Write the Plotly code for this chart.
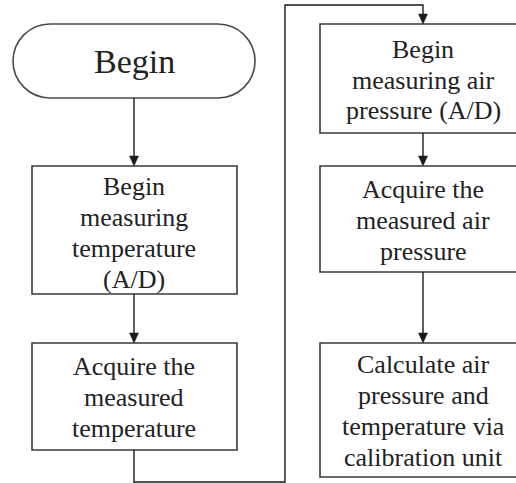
import plotly.graph_objects as go

# ---- content ----
start_label = ["Begin"]
left_box_labels = [
    ["Begin", "measuring", "temperature", "(A/D)"],
    ["Acquire the", "measured", "temperature"],
]
right_box_labels = [
    ["Begin", "measuring air", "pressure (A/D)"],
    ["Acquire the", "measured air", "pressure"],
    ["Calculate air", "pressure and", "temperature via", "calibration unit"],
]

# ---- geometry (pixel-like data units, y downward) ----
W, H = 516, 483
term = dict(x0=13, x1=255, y0=24, y1=98, cx=134, ty=61.5)
left_boxes = [dict(x0=32, x1=237, y0=166, y1=294, ys=[186, 217, 248, 279]),
              dict(x0=32, x1=237, y0=343, y1=450, ys=[366, 397, 428])]
right_boxes = [dict(x0=320, x1=527, y0=24, y1=133, ys=[49, 80, 110]),
               dict(x0=320, x1=527, y0=166, y1=272, ys=[189, 220, 251]),
               dict(x0=320, x1=527, y0=343, y1=477, ys=[364, 395, 426, 457])]
LX, RX = 134, 423

BOX_LINE = dict(color="#3a3a3a", width=1.6)
CONN_LINE = dict(color="#1a1a1a", width=1.4)
FONT = "Liberation Serif"
TXT = "#222222"

shapes = []
annotations = []

# terminal (stadium shape)
r = (term["y1"] - term["y0"]) / 2
k = 0.5523 * r
xl, xr = term["x0"] + r, term["x1"] - r
ym = (term["y0"] + term["y1"]) / 2
path = (f"M {xl},{term['y0']} L {xr},{term['y0']} "
        f"C {xr + k},{term['y0']} {term['x1']},{ym - k} {term['x1']},{ym} "
        f"C {term['x1']},{ym + k} {xr + k},{term['y1']} {xr},{term['y1']} "
        f"L {xl},{term['y1']} "
        f"C {xl - k},{term['y1']} {term['x0']},{ym + k} {term['x0']},{ym} "
        f"C {term['x0']},{ym - k} {xl - k},{term['y0']} {xl},{term['y0']} Z")
shapes.append(dict(type="path", path=path, xref="x", yref="y",
                   line=dict(color="#4a4a4a", width=1.6), fillcolor="white"))
annotations.append(dict(x=term["cx"], y=term["ty"], text=start_label[0],
                        showarrow=False, xref="x", yref="y",
                        font=dict(family=FONT, size=34, color=TXT)))

def add_box(b, labels, cx):
    shapes.append(dict(type="rect", x0=b["x0"], x1=b["x1"], y0=b["y0"], y1=b["y1"],
                       xref="x", yref="y", line=BOX_LINE, fillcolor="white"))
    for t, y in zip(labels, b["ys"]):
        annotations.append(dict(x=cx, y=y, text=t, showarrow=False, xref="x", yref="y",
                                font=dict(family=FONT, size=26, color=TXT)))

for b, lab in zip(left_boxes, left_box_labels):
    add_box(b, lab, LX)
for b, lab in zip(right_boxes, right_box_labels):
    add_box(b, lab, RX)

def line(pts):
    d = "M " + " L ".join(f"{x},{y}" for x, y in pts)
    shapes.append(dict(type="path", path=d, xref="x", yref="y", line=CONN_LINE))

def arrowhead(x, y):
    shapes.append(dict(type="path", path=f"M {x},{y} L {x-4.5},{y-10} L {x+4.5},{y-10} Z",
                       xref="x", yref="y", line=dict(color="#1a1a1a", width=0.5),
                       fillcolor="#1a1a1a"))

# connectors
line([(LX, term["y1"]), (LX, left_boxes[0]["y0"] - 2)])
arrowhead(LX, left_boxes[0]["y0"])
line([(LX, left_boxes[0]["y1"]), (LX, left_boxes[1]["y0"] - 2)])
arrowhead(LX, left_boxes[1]["y0"])
line([(LX, left_boxes[1]["y1"]), (LX, 482), (285, 482), (285, 5), (RX, 5),
      (RX, right_boxes[0]["y0"] - 2)])
arrowhead(RX, right_boxes[0]["y0"])
line([(RX, right_boxes[0]["y1"]), (RX, right_boxes[1]["y0"] - 2)])
arrowhead(RX, right_boxes[1]["y0"])
line([(RX, right_boxes[1]["y1"]), (RX, right_boxes[2]["y0"] - 2)])
arrowhead(RX, right_boxes[2]["y0"])

fig = go.Figure()
fig.update_layout(
    width=W, height=H, margin=dict(l=0, r=0, t=0, b=0),
    paper_bgcolor="white", plot_bgcolor="white",
    font=dict(family=FONT),
    xaxis=dict(range=[0, W], visible=False, fixedrange=True),
    yaxis=dict(range=[H, 0], visible=False, fixedrange=True),
    shapes=shapes, annotations=annotations, showlegend=False,
)
fig.write_html("out.html", config={"displayModeBar": False},
               post_script="document.body.style.margin='0';document.body.style.padding='0';")
